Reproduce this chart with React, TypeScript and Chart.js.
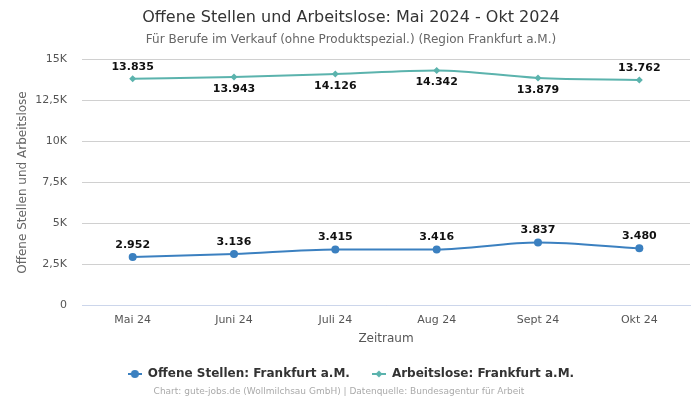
import React, { useEffect, useRef } from "react";
import { Chart, registerables } from "chart.js";

Chart.register(...registerables);

const categories = ["Mai 24", "Juni 24", "Juli 24", "Aug 24", "Sept 24", "Okt 24"];
const offeneStellen = [2952, 3136, 3415, 3416, 3837, 3480];
const arbeitslose = [13835, 13943, 14126, 14342, 13879, 13762];
const arbeitsloseLabelAbove = [true, false, false, false, false, true];
const yTicks = [0, 2500, 5000, 7500, 10000, 12500, 15000];

const BLUE = "#3b80c0";
const TEAL = "#5bb3ad";
const FONT = "'DejaVu Sans', sans-serif";

function fmtNum(v: number) {
  return v.toLocaleString("de-DE");
}
function fmtTick(v: number) {
  if (v === 0) return "0";
  return (v / 1000).toLocaleString("de-DE") + "K";
}

function legendIcon(color: string, diamond: boolean) {
  const c = document.createElement("canvas");
  c.width = 14;
  c.height = 10;
  const ctx = c.getContext("2d")!;
  ctx.strokeStyle = color;
  ctx.lineWidth = 2;
  ctx.beginPath();
  ctx.moveTo(0, 5);
  ctx.lineTo(14, 5);
  ctx.stroke();
  ctx.fillStyle = color;
  ctx.beginPath();
  if (diamond) {
    ctx.moveTo(7, 1.5);
    ctx.lineTo(10.5, 5);
    ctx.lineTo(7, 8.5);
    ctx.lineTo(3.5, 5);
    ctx.closePath();
  } else {
    ctx.arc(7, 5, 4, 0, Math.PI * 2);
  }
  ctx.fill();
  return c;
}

const labelsPlugin = {
  id: "valueLabels",
  afterDatasetsDraw(chart: any) {
    const ctx = chart.ctx;
    ctx.save();
    ctx.font = `bold 11px ${FONT}`;
    ctx.fillStyle = "#111";
    ctx.textAlign = "center";
    ctx.textBaseline = "middle";
    chart.data.datasets.forEach((ds: any, di: number) => {
      const meta = chart.getDatasetMeta(di);
      meta.data.forEach((pt: any, i: number) => {
        const v = ds.data[i];
        let above = true;
        if (di === 1) above = arbeitsloseLabelAbove[i];
        const y = above ? pt.y - 12 : pt.y + 12;
        ctx.fillText(fmtNum(v), pt.x, y);
      });
    });
    ctx.restore();
  },
};

const footerPlugin = {
  id: "footerText",
  afterDraw(chart: any) {
    const ctx = chart.ctx;
    ctx.save();
    ctx.font = `9px ${FONT}`;
    ctx.fillStyle = "#aaa";
    ctx.textAlign = "center";
    ctx.textBaseline = "middle";
    ctx.fillText(
      "Chart: gute-jobs.de (Wollmilchsau GmbH) | Datenquelle: Bundesagentur für Arbeit",
      339,
      392
    );
    ctx.restore();
  },
};

export default function App() {
  const ref = useRef<HTMLCanvasElement | null>(null);
  useEffect(() => {
    if (!ref.current) return;
    const chart = new Chart(ref.current, {
      type: "line",
      data: {
        labels: categories,
        datasets: [
          {
            label: "Offene Stellen: Frankfurt a.M.",
            data: offeneStellen,
            borderColor: BLUE,
            backgroundColor: BLUE,
            borderWidth: 2,
            pointStyle: "circle",
            pointRadius: 4,
            pointBorderWidth: 0,
            pointHoverRadius: 4,
            cubicInterpolationMode: "monotone",
          },
          {
            label: "Arbeitslose: Frankfurt a.M.",
            data: arbeitslose,
            borderColor: TEAL,
            backgroundColor: TEAL,
            borderWidth: 2,
            pointStyle: "rectRot",
            pointRadius: 3.5,
            pointBorderWidth: 0,
            pointHoverRadius: 3.5,
            cubicInterpolationMode: "monotone",
          },
        ],
      },
      options: {
        animation: false,
        responsive: true,
        maintainAspectRatio: false,
        layout: { padding: { left: 12, right: 10, top: 0, bottom: 10 } },
        plugins: {
          title: {
            display: true,
            text: "Offene Stellen und Arbeitslose: Mai 2024 - Okt 2024",
            color: "#333",
            font: { family: FONT, size: 16, weight: "normal" },
            padding: { top: 8, bottom: 5 },
          },
          subtitle: {
            display: true,
            text: "Für Berufe im Verkauf (ohne Produktspezial.) (Region Frankfurt a.M.)",
            color: "#666",
            font: { family: FONT, size: 12 },
            padding: { bottom: 13 },
          },
          legend: {
            position: "bottom",
            labels: {
              usePointStyle: true,
              pointStyleWidth: 14,
              color: "#333",
              font: { family: FONT, size: 12, weight: "bold" },
              padding: 22,
              generateLabels: (ch: any) =>
                ch.data.datasets.map((ds: any, i: number) => ({
                  text: ds.label,
                  pointStyle: legendIcon(i === 0 ? BLUE : TEAL, i === 1),
                  fillStyle: ds.borderColor,
                  strokeStyle: ds.borderColor,
                  lineWidth: 0,
                  datasetIndex: i,
                  fontColor: "#333",
                })),
            },
          },
          tooltip: { enabled: false },
        },
        scales: {
          x: {
            offset: true,
            grid: { display: false, drawTicks: false },
            border: { color: "#ccd6eb" },
            ticks: { color: "#555", font: { family: FONT, size: 11 }, padding: 8 },
            title: {
              display: true,
              text: "Zeitraum",
              color: "#555",
              font: { family: FONT, size: 12 },
              padding: { top: -3, bottom: 0 },
            },
          },
          y: {
            min: 0,
            max: 15000,
            afterBuildTicks: (axis: any) => {
              axis.ticks = yTicks.map((v) => ({ value: v }));
            },
            afterFit: (axis: any) => {
              axis.width = 70;
            },
            grid: { color: "#d0d0d0", drawTicks: false },
            border: { display: false },
            ticks: {
              color: "#555",
              font: { family: FONT, size: 11 },
              padding: 15,
              callback: (v: any) => fmtTick(Number(v)),
            },
            title: {
              display: true,
              text: "Offene Stellen und Arbeitslose",
              color: "#666",
              font: { family: FONT, size: 12 },
            },
          },
        },
      },
      plugins: [labelsPlugin, footerPlugin],
    } as any);
    return () => chart.destroy();
  }, []);
  return (
    <div style={{ position: "fixed", left: 0, top: 0, width: 700, height: 400, background: "#fff" }}>
      <canvas ref={ref} />
    </div>
  );
}
